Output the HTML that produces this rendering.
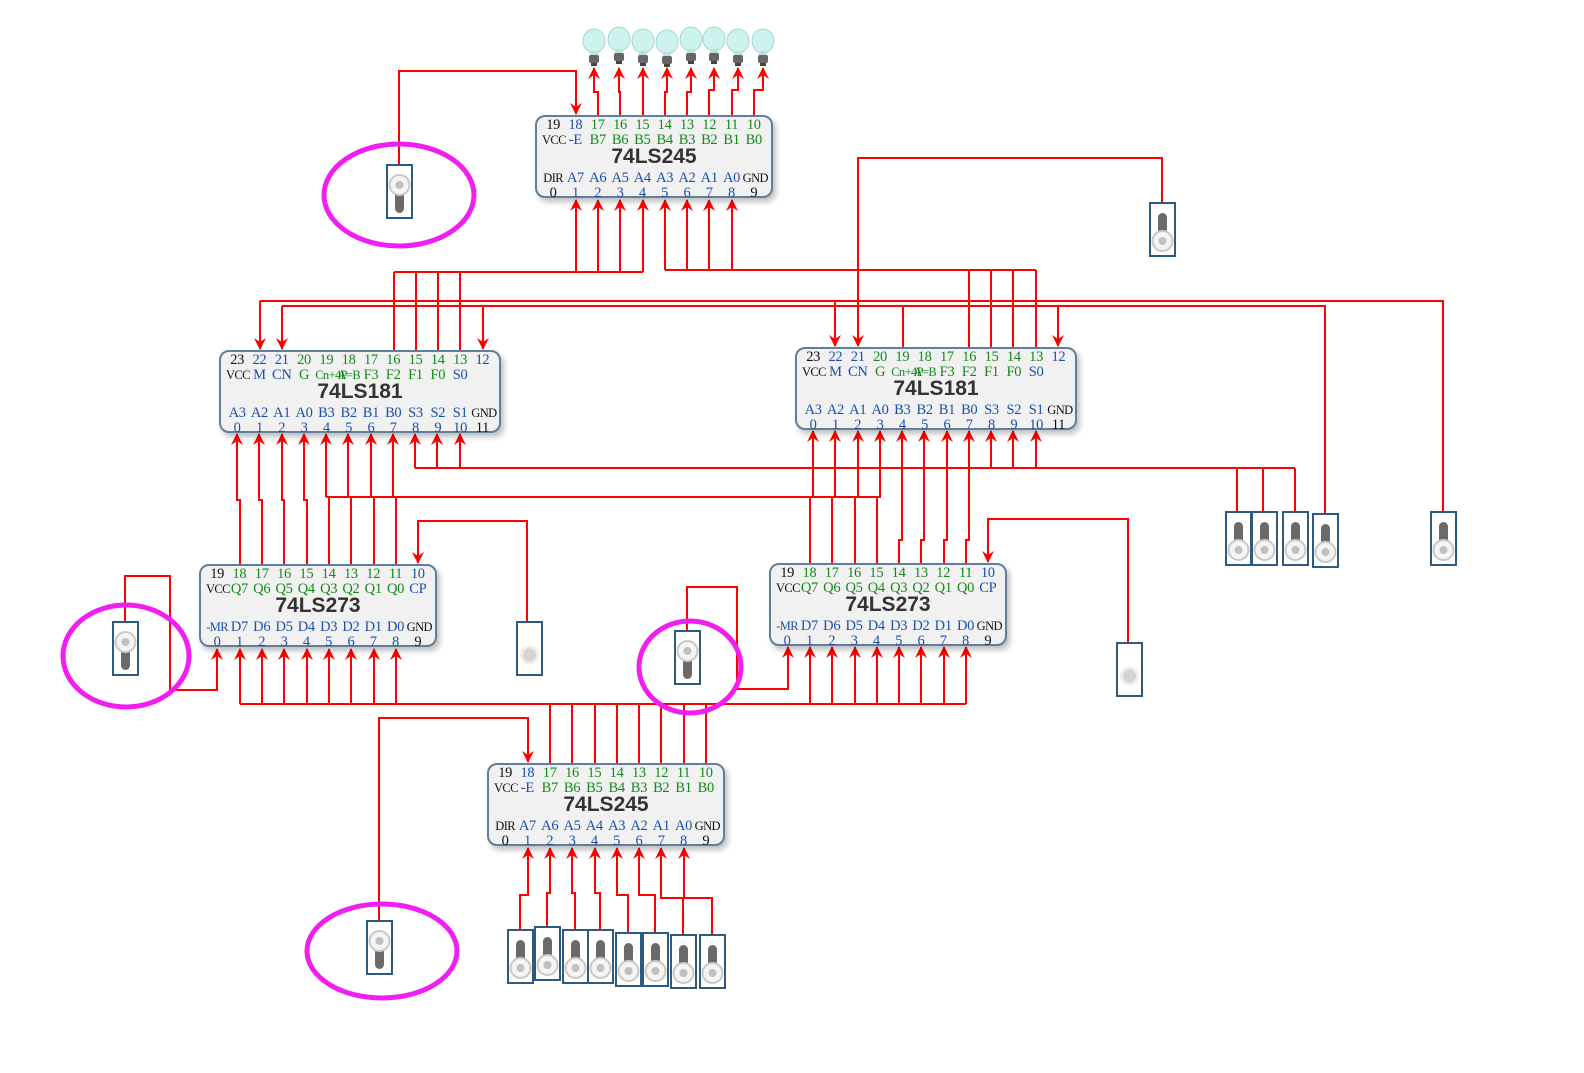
<!DOCTYPE html>
<html><head><meta charset="utf-8"><style>
html,body{margin:0;padding:0;background:#fff;}
body{width:1584px;height:1073px;position:relative;overflow:hidden;font-family:"Liberation Serif",serif;}
.chip{position:absolute;width:238px;height:83px;box-sizing:border-box;border:2px solid #5f7f9c;border-radius:10px;background:#f1f1f1;box-shadow:3px 4px 6px rgba(0,0,0,0.25);z-index:1;}
.w12{width:282px;}
.row{position:absolute;left:5px;display:flex;white-space:nowrap;font-size:14.5px;line-height:15px;letter-spacing:-0.3px;}
.row span{width:22.3px;text-align:center;flex:none;display:inline-block;}
.row span.n{font-size:12.5px;letter-spacing:-0.6px;}
.r1{top:1px}.r2{top:16px}.r4{top:54px}.r5{top:69px}
.t{position:absolute;left:0;right:0;top:29px;text-align:center;font:bold 21px "Liberation Sans",sans-serif;line-height:22px;color:#333;}
.k{color:#111}.b{color:#1a4fb0}.g{color:#14891a}
svg{position:absolute;left:0;top:0;}
</style></head><body>
<svg width="1584" height="1073" viewBox="0 0 1584 1073" style="z-index:0">
<defs>
<marker id="m" markerWidth="12" markerHeight="12" refX="11" refY="6" orient="auto" markerUnits="userSpaceOnUse" viewBox="0 0 12 12"><path d="M0,0 L12,6 L0,12 L4,6 Z" fill="#f00"/></marker>
</defs>
<g fill="none" stroke="#f00" stroke-width="2">
<polyline points="598,115 598,92 594,92 594,68" marker-end="url(#m)"/>
<polyline points="620,115 620,92 619,92 619,68" marker-end="url(#m)"/>
<polyline points="643,115 643,68" marker-end="url(#m)"/>
<polyline points="665,115 665,92 667,92 667,68" marker-end="url(#m)"/>
<polyline points="687,115 687,92 691,92 691,68" marker-end="url(#m)"/>
<polyline points="709,115 709,90 714,90 714,68" marker-end="url(#m)"/>
<polyline points="732,115 732,90 738,90 738,68" marker-end="url(#m)"/>
<polyline points="754,115 754,90 763,90 763,68" marker-end="url(#m)"/>
<polyline points="399,165 399,71 576,71 576,114" marker-end="url(#m)"/>
<polyline points="394,272 643,272"/>
<polyline points="576,272 576,200" marker-end="url(#m)"/>
<polyline points="598,272 598,200" marker-end="url(#m)"/>
<polyline points="620,272 620,200" marker-end="url(#m)"/>
<polyline points="643,272 643,200" marker-end="url(#m)"/>
<polyline points="394,272 394,350"/><polyline points="416,272 416,350"/><polyline points="438,272 438,350"/><polyline points="460,272 460,350"/>
<polyline points="665,270 1036,270"/>
<polyline points="665,270 665,200" marker-end="url(#m)"/>
<polyline points="687,270 687,200" marker-end="url(#m)"/>
<polyline points="709,270 709,200" marker-end="url(#m)"/>
<polyline points="732,270 732,200" marker-end="url(#m)"/>
<polyline points="969,270 969,347"/><polyline points="991,270 991,347"/><polyline points="1013,270 1013,347"/><polyline points="1036,270 1036,347"/>
<polyline points="260,301 1443,301 1443,512"/>
<polyline points="260,301 260,349" marker-end="url(#m)"/>
<polyline points="835,301 835,346" marker-end="url(#m)"/>
<polyline points="282,306 1325,306 1325,514"/>
<polyline points="282,306 282,349" marker-end="url(#m)"/>
<polyline points="483,306 483,349" marker-end="url(#m)"/>
<polyline points="903,306 903,347"/>
<polyline points="1058,306 1058,346" marker-end="url(#m)"/>
<polyline points="1162,203 1162,158 858,158 858,346" marker-end="url(#m)"/>
<polyline points="415,468 1295,468"/>
<polyline points="415,468 415,434" marker-end="url(#m)"/>
<polyline points="437,468 437,434" marker-end="url(#m)"/>
<polyline points="460,468 460,434" marker-end="url(#m)"/>
<polyline points="991,468 991,431" marker-end="url(#m)"/>
<polyline points="1013,468 1013,431" marker-end="url(#m)"/>
<polyline points="1036,468 1036,431" marker-end="url(#m)"/>
<polyline points="1237,468 1237,512"/><polyline points="1263,468 1263,512"/><polyline points="1295,468 1295,512"/>
<polyline points="240,564 240,500 237,500 237,434" marker-end="url(#m)"/>
<polyline points="262,564 262,500 259,500 259,434" marker-end="url(#m)"/>
<polyline points="284,564 284,500 282,500 282,434" marker-end="url(#m)"/>
<polyline points="307,564 307,500 304,500 304,434" marker-end="url(#m)"/>
<polyline points="326,497 880,497"/>
<polyline points="326,497 326,434" marker-end="url(#m)"/>
<polyline points="348,497 348,434" marker-end="url(#m)"/>
<polyline points="371,497 371,434" marker-end="url(#m)"/>
<polyline points="393,497 393,434" marker-end="url(#m)"/>
<polyline points="329,497 329,564"/><polyline points="351,497 351,564"/><polyline points="374,497 374,564"/><polyline points="396,497 396,564"/>
<polyline points="810,563 810,497 813,497 813,431" marker-end="url(#m)"/>
<polyline points="832,563 832,497 835,497 835,431" marker-end="url(#m)"/>
<polyline points="855,563 855,497 858,497 858,431" marker-end="url(#m)"/>
<polyline points="877,563 877,497 880,497 880,431" marker-end="url(#m)"/>
<polyline points="899,563 899,540 902,540 902,431" marker-end="url(#m)"/>
<polyline points="921,563 921,540 924,540 924,431" marker-end="url(#m)"/>
<polyline points="944,563 944,540 947,540 947,431" marker-end="url(#m)"/>
<polyline points="966,563 966,540 969,540 969,431" marker-end="url(#m)"/>
<polyline points="527,622 527,521 418,521 418,563" marker-end="url(#m)"/>
<polyline points="1128,643 1128,519 988,519 988,562" marker-end="url(#m)"/>
<polyline points="125,622 125,576 170,576 170,690 217,690 217,649" marker-end="url(#m)"/>
<polyline points="687,631 687,587 737,587 737,689 788,689 788,647" marker-end="url(#m)"/>
<polyline points="240,704 966,704"/>
<polyline points="240,704 240,649" marker-end="url(#m)"/>
<polyline points="262,704 262,649" marker-end="url(#m)"/>
<polyline points="284,704 284,649" marker-end="url(#m)"/>
<polyline points="307,704 307,649" marker-end="url(#m)"/>
<polyline points="329,704 329,649" marker-end="url(#m)"/>
<polyline points="351,704 351,649" marker-end="url(#m)"/>
<polyline points="374,704 374,649" marker-end="url(#m)"/>
<polyline points="396,704 396,649" marker-end="url(#m)"/>
<polyline points="810,704 810,647" marker-end="url(#m)"/>
<polyline points="832,704 832,647" marker-end="url(#m)"/>
<polyline points="855,704 855,647" marker-end="url(#m)"/>
<polyline points="877,704 877,647" marker-end="url(#m)"/>
<polyline points="899,704 899,647" marker-end="url(#m)"/>
<polyline points="921,704 921,647" marker-end="url(#m)"/>
<polyline points="944,704 944,647" marker-end="url(#m)"/>
<polyline points="966,704 966,647" marker-end="url(#m)"/>
<polyline points="550,704 550,763"/><polyline points="572,704 572,763"/><polyline points="595,704 595,763"/><polyline points="617,704 617,763"/><polyline points="639,704 639,763"/><polyline points="661,704 661,763"/><polyline points="684,704 684,763"/><polyline points="706,704 706,763"/>
<polyline points="379,921 379,718 528,718 528,762" marker-end="url(#m)"/>
<polyline points="520,930 520,895 528,895 528,848" marker-end="url(#m)"/>
<polyline points="547,927 547,893 550,893 550,848" marker-end="url(#m)"/>
<polyline points="575,930 575,893 572,893 572,848" marker-end="url(#m)"/>
<polyline points="600,930 600,893 595,893 595,848" marker-end="url(#m)"/>
<polyline points="628,933 628,895 617,895 617,848" marker-end="url(#m)"/>
<polyline points="655,933 655,895 639,895 639,848" marker-end="url(#m)"/>
<polyline points="683,935 683,898 661,898 661,848" marker-end="url(#m)"/>
<polyline points="712,935 712,898 684,898 684,848" marker-end="url(#m)"/>
</g>
<defs>
<g id="su"><rect x="0" y="0" width="25" height="53" fill="#fff" stroke="#2f5a80" stroke-width="2"/><rect x="8" y="10" width="9" height="26" rx="4.5" fill="#6a6a6a"/><circle cx="12.5" cy="38" r="10" fill="#f4f4f4" stroke="#c8c8c8" stroke-width="2"/><circle cx="12.5" cy="38" r="4" fill="#c0c0c0"/></g>
<g id="sd"><rect x="0" y="0" width="25" height="53" fill="#fff" stroke="#2f5a80" stroke-width="2"/><rect x="8" y="20" width="9" height="28" rx="4.5" fill="#6a6a6a"/><circle cx="12.5" cy="20" r="10" fill="#f4f4f4" stroke="#c8c8c8" stroke-width="2"/><circle cx="12.5" cy="20" r="4" fill="#c0c0c0"/></g>
<g id="sb"><rect x="0" y="0" width="25" height="53" fill="#fff" stroke="#2f5a80" stroke-width="2"/><circle cx="12.5" cy="33" r="8" fill="#d4d4d4" stroke="#eee" stroke-width="3"/></g>
<g id="bulb"><ellipse cx="0" cy="-3" rx="11" ry="12" fill="#cdf3ef" stroke="#a9d6d3"/><rect x="-4" y="7" width="8" height="5" fill="#bfe0dc"/><rect x="-5" y="11" width="10" height="8" rx="2" fill="#666"/><rect x="-3" y="19" width="6" height="3" fill="#444"/></g>
</defs>
<use href="#bulb" x="594" y="44"/><use href="#bulb" x="619" y="42"/><use href="#bulb" x="643" y="44"/><use href="#bulb" x="667" y="45"/><use href="#bulb" x="691" y="42"/><use href="#bulb" x="714" y="42"/><use href="#bulb" x="738" y="44"/><use href="#bulb" x="763" y="44"/>
<use href="#sd" x="387" y="165"/><use href="#sd" x="113" y="622"/><use href="#sd" x="675" y="631"/><use href="#sd" x="367" y="921"/>
<use href="#sb" x="517" y="622"/><use href="#sb" x="1117" y="643"/>
<use href="#su" x="1150" y="203"/><use href="#su" x="1226" y="512"/><use href="#su" x="1252" y="512"/><use href="#su" x="1283" y="512"/><use href="#su" x="1313" y="514"/><use href="#su" x="1431" y="512"/>
<use href="#su" x="508" y="930"/><use href="#su" x="535" y="927"/><use href="#su" x="563" y="930"/><use href="#su" x="588" y="930"/><use href="#su" x="616" y="933"/><use href="#su" x="643" y="933"/><use href="#su" x="671" y="935"/><use href="#su" x="700" y="935"/>
<g fill="none" stroke="#f01ef0" stroke-width="5">
<ellipse cx="399" cy="195" rx="75" ry="51"/>
<ellipse cx="126" cy="656" rx="63" ry="51"/>
<ellipse cx="690" cy="667" rx="51" ry="46"/>
<ellipse cx="382" cy="951" rx="75" ry="47"/>
</g>
</svg>

<div class="chip" style="left:535px;top:115px;">
<div class="row r1"><span class="k">19</span><span class="b">18</span><span class="g">17</span><span class="g">16</span><span class="g">15</span><span class="g">14</span><span class="g">13</span><span class="g">12</span><span class="g">11</span><span class="g">10</span></div>
<div class="row r2"><span class="k n">VCC</span><span class="b">-E</span><span class="g">B7</span><span class="g">B6</span><span class="g">B5</span><span class="g">B4</span><span class="g">B3</span><span class="g">B2</span><span class="g">B1</span><span class="g">B0</span></div>
<div class="t">74LS245</div>
<div class="row r4"><span class="k n">DIR</span><span class="b">A7</span><span class="b">A6</span><span class="b">A5</span><span class="b">A4</span><span class="b">A3</span><span class="b">A2</span><span class="b">A1</span><span class="b">A0</span><span class="k n">GND</span></div>
<div class="row r5"><span class="k">0</span><span class="b">1</span><span class="b">2</span><span class="b">3</span><span class="b">4</span><span class="b">5</span><span class="b">6</span><span class="b">7</span><span class="b">8</span><span class="k">9</span></div>
</div>
<div class="chip" style="left:487px;top:763px;">
<div class="row r1"><span class="k">19</span><span class="b">18</span><span class="g">17</span><span class="g">16</span><span class="g">15</span><span class="g">14</span><span class="g">13</span><span class="g">12</span><span class="g">11</span><span class="g">10</span></div>
<div class="row r2"><span class="k n">VCC</span><span class="b">-E</span><span class="g">B7</span><span class="g">B6</span><span class="g">B5</span><span class="g">B4</span><span class="g">B3</span><span class="g">B2</span><span class="g">B1</span><span class="g">B0</span></div>
<div class="t">74LS245</div>
<div class="row r4"><span class="k n">DIR</span><span class="b">A7</span><span class="b">A6</span><span class="b">A5</span><span class="b">A4</span><span class="b">A3</span><span class="b">A2</span><span class="b">A1</span><span class="b">A0</span><span class="k n">GND</span></div>
<div class="row r5"><span class="k">0</span><span class="b">1</span><span class="b">2</span><span class="b">3</span><span class="b">4</span><span class="b">5</span><span class="b">6</span><span class="b">7</span><span class="b">8</span><span class="k">9</span></div>
</div>
<div class="chip w12" style="left:219px;top:350px;">
<div class="row r1"><span class="k">23</span><span class="b">22</span><span class="b">21</span><span class="g">20</span><span class="g">19</span><span class="g">18</span><span class="g">17</span><span class="g">16</span><span class="g">15</span><span class="g">14</span><span class="g">13</span><span class="b">12</span></div>
<div class="row r2"><span class="k n">VCC</span><span class="b">M</span><span class="b">CN</span><span class="g">G</span><span class="g n">Cn+4P</span><span class="g n">A=B</span><span class="g">F3</span><span class="g">F2</span><span class="g">F1</span><span class="g">F0</span><span class="b">S0</span><span></span></div>
<div class="t">74LS181</div>
<div class="row r4"><span class="b">A3</span><span class="b">A2</span><span class="b">A1</span><span class="b">A0</span><span class="b">B3</span><span class="b">B2</span><span class="b">B1</span><span class="b">B0</span><span class="b">S3</span><span class="b">S2</span><span class="b">S1</span><span class="k n">GND</span></div>
<div class="row r5"><span class="b">0</span><span class="b">1</span><span class="b">2</span><span class="b">3</span><span class="b">4</span><span class="b">5</span><span class="b">6</span><span class="b">7</span><span class="b">8</span><span class="b">9</span><span class="b">10</span><span class="k">11</span></div>
</div>
<div class="chip w12" style="left:795px;top:347px;">
<div class="row r1"><span class="k">23</span><span class="b">22</span><span class="b">21</span><span class="g">20</span><span class="g">19</span><span class="g">18</span><span class="g">17</span><span class="g">16</span><span class="g">15</span><span class="g">14</span><span class="g">13</span><span class="b">12</span></div>
<div class="row r2"><span class="k n">VCC</span><span class="b">M</span><span class="b">CN</span><span class="g">G</span><span class="g n">Cn+4P</span><span class="g n">A=B</span><span class="g">F3</span><span class="g">F2</span><span class="g">F1</span><span class="g">F0</span><span class="b">S0</span><span></span></div>
<div class="t">74LS181</div>
<div class="row r4"><span class="b">A3</span><span class="b">A2</span><span class="b">A1</span><span class="b">A0</span><span class="b">B3</span><span class="b">B2</span><span class="b">B1</span><span class="b">B0</span><span class="b">S3</span><span class="b">S2</span><span class="b">S1</span><span class="k n">GND</span></div>
<div class="row r5"><span class="b">0</span><span class="b">1</span><span class="b">2</span><span class="b">3</span><span class="b">4</span><span class="b">5</span><span class="b">6</span><span class="b">7</span><span class="b">8</span><span class="b">9</span><span class="b">10</span><span class="k">11</span></div>
</div>
<div class="chip" style="left:199px;top:564px;">
<div class="row r1"><span class="k">19</span><span class="g">18</span><span class="g">17</span><span class="g">16</span><span class="g">15</span><span class="g">14</span><span class="g">13</span><span class="g">12</span><span class="g">11</span><span class="b">10</span></div>
<div class="row r2"><span class="k n">VCC</span><span class="g">Q7</span><span class="g">Q6</span><span class="g">Q5</span><span class="g">Q4</span><span class="g">Q3</span><span class="g">Q2</span><span class="g">Q1</span><span class="g">Q0</span><span class="b">CP</span></div>
<div class="t">74LS273</div>
<div class="row r4"><span class="b n">-MR</span><span class="b">D7</span><span class="b">D6</span><span class="b">D5</span><span class="b">D4</span><span class="b">D3</span><span class="b">D2</span><span class="b">D1</span><span class="b">D0</span><span class="k n">GND</span></div>
<div class="row r5"><span class="b">0</span><span class="b">1</span><span class="b">2</span><span class="b">3</span><span class="b">4</span><span class="b">5</span><span class="b">6</span><span class="b">7</span><span class="b">8</span><span class="k">9</span></div>
</div>
<div class="chip" style="left:769px;top:563px;">
<div class="row r1"><span class="k">19</span><span class="g">18</span><span class="g">17</span><span class="g">16</span><span class="g">15</span><span class="g">14</span><span class="g">13</span><span class="g">12</span><span class="g">11</span><span class="b">10</span></div>
<div class="row r2"><span class="k n">VCC</span><span class="g">Q7</span><span class="g">Q6</span><span class="g">Q5</span><span class="g">Q4</span><span class="g">Q3</span><span class="g">Q2</span><span class="g">Q1</span><span class="g">Q0</span><span class="b">CP</span></div>
<div class="t">74LS273</div>
<div class="row r4"><span class="b n">-MR</span><span class="b">D7</span><span class="b">D6</span><span class="b">D5</span><span class="b">D4</span><span class="b">D3</span><span class="b">D2</span><span class="b">D1</span><span class="b">D0</span><span class="k n">GND</span></div>
<div class="row r5"><span class="b">0</span><span class="b">1</span><span class="b">2</span><span class="b">3</span><span class="b">4</span><span class="b">5</span><span class="b">6</span><span class="b">7</span><span class="b">8</span><span class="k">9</span></div>
</div>
</body></html>
